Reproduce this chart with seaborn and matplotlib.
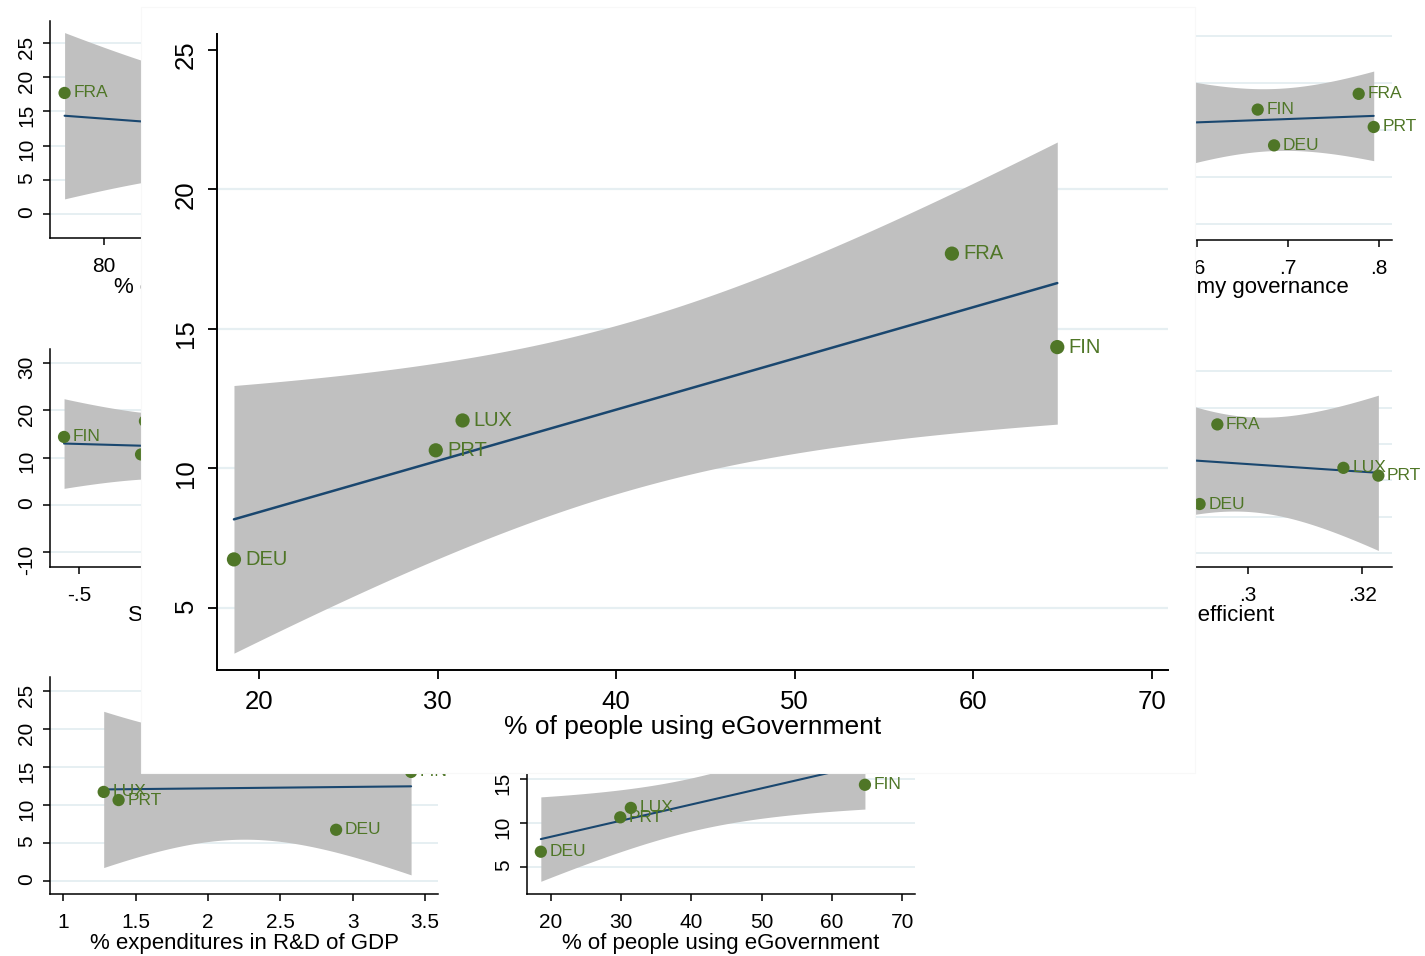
import numpy as np
import matplotlib
matplotlib.use("Agg")
import matplotlib.pyplot as plt
from matplotlib.patches import Rectangle
import seaborn as sns

# ---- data -----------------------------------------------------------------
countries = ["DEU", "FIN", "FRA", "LUX", "PRT"]
outcome = [6.74, 14.35, 17.70, 11.72, 10.65]

egov_use = [18.6, 64.7, 58.8, 31.4, 29.9]            # % of people using eGovernment
rd_share = [2.885, 3.403, 2.22, 1.279, 1.382]         # % expenditures in R&D of GDP
internet_share = [86, 92, 78, 96, 88]                 # % of regular internet users
regulation = [0.01, -0.588, -0.112, 1.455, -0.135]    # regulation index
econ_gov = [0.685, 0.667, 0.778, 0.50, 0.7945]        # platform economy governance
energy_eff = [0.2916, 0.275, 0.2947, 0.3167, 0.3228]  # energy efficiency

# ---- style ----------------------------------------------------------------
sns.set_theme(style="ticks")
plt.rcParams["font.family"] = ["Liberation Sans", "DejaVu Sans"]
plt.rcParams["text.color"] = "black"
plt.rcParams["axes.labelcolor"] = "black"
plt.rcParams["xtick.color"] = "black"
plt.rcParams["ytick.color"] = "black"

GREEN = "#4f7627"
FIT = "#1a476f"
BAND = "#c0c0c0"
GRID = "#e6eff2"

W, H = 1425, 956
T_975 = {1: 12.706, 2: 4.303, 3: 3.182, 4: 2.776, 5: 2.571}


def box(l, t, r, b):
    return [l / W, 1 - b / H, (r - l) / W, (b - t) / H]


def stata_fmt(v):
    s = f"{v:g}"
    if s.startswith("0."):
        s = s[1:]
    elif s.startswith("-0."):
        s = "-" + s[2:]
    return s


def linear_fit(x, y, n=100):
    x = np.asarray(x, float)
    y = np.asarray(y, float)
    k = len(x)
    xm, ym = x.mean(), y.mean()
    sxx = ((x - xm) ** 2).sum()
    b = ((x - xm) * (y - ym)).sum() / sxx
    a = ym - b * xm
    s = np.sqrt(((y - a - b * x) ** 2).sum() / (k - 2))
    g = np.linspace(x.min(), x.max(), n)
    half = T_975[k - 2] * s * np.sqrt(1 / k + (g - xm) ** 2 / sxx)
    fit = a + b * g
    return g, fit, fit - half, fit + half


def draw_panel(ax, x, y, xlim, ylim, xticks, yticks, grid_vals, title,
               big=False):
    g, fit, lo, hi = linear_fit(x, y)
    for v in grid_vals:
        ax.axhline(v, color=GRID, lw=1.6 if big else 1.4, zorder=0)
    ax.fill_between(g, lo, hi, color=BAND, lw=0, zorder=1)
    sns.lineplot(x=g, y=fit, ax=ax, color=FIT, lw=1.8 if big else 1.5,
                 zorder=2)
    sns.scatterplot(x=x, y=y, ax=ax, color=GREEN, s=105 if big else 78,
                    edgecolor="none", linewidth=0, zorder=3)
    for xi, yi, lab in zip(x, y, countries):
        ax.annotate(lab, (xi, yi), xytext=(8 if big else 6.3, 0),
                    textcoords="offset points", ha="left", va="center",
                    color=GREEN, fontsize=14.5 if big else 12.5, zorder=4,
                    annotation_clip=False)
    ax.set_xlim(*xlim)
    ax.set_ylim(*ylim)
    ax.set_xticks(xticks)
    ax.set_xticklabels([stata_fmt(v) for v in xticks])
    ax.set_yticks(yticks)
    ax.set_yticklabels([stata_fmt(v) for v in yticks])
    ax.tick_params(axis="both", direction="out", color="black",
                   labelcolor="black",
                   length=6.5 if big else 5, width=1.3 if big else 1.1,
                   labelsize=18.5 if big else 15)
    ax.tick_params(axis="x", pad=8.5 if big else 8.5)
    ax.tick_params(axis="y", labelrotation=90, pad=7.5 if big else 5)
    ax.set_ylabel("")
    for side in ("top", "right"):
        ax.spines[side].set_visible(False)
    for side in ("left", "bottom"):
        ax.spines[side].set_color("black")
        ax.spines[side].set_linewidth(1.4 if big else 1.1)
    ax.set_facecolor("white")
    ax.set_xlabel(title, fontsize=19 if big else 16, color="black")


fig = plt.figure(figsize=(W / 100, H / 100), dpi=100)
fig.patch.set_facecolor("white")

panels = [
    dict(x=internet_share, px=(50, 21, 438, 238.3), xlim=(77.26, 96.95),
         ylim=(-3.55, 28.22), xticks=[80, 85, 90, 95],
         yticks=[0, 5, 10, 15, 20, 25], title="% of regular internet users",
         title_y=287),
    dict(x=regulation, px=(50, 349, 438, 567), xlim=(-0.6706, 1.6118),
         ylim=(-13.17, 32.96), xticks=[-0.5, 0, 0.5, 1, 1.5],
         yticks=[-10, 0, 10, 20, 30], title="Simple regulation index",
         title_y=615),
    dict(x=rd_share, px=(50, 677, 438, 894), xlim=(0.908, 3.589),
         ylim=(-1.71, 26.84), xticks=[1, 1.5, 2, 2.5, 3, 3.5],
         yticks=[0, 5, 10, 15, 20, 25], title="% expenditures in R&D of GDP",
         title_y=943),
    dict(x=egov_use, px=(526.7, 677, 915, 894.3), xlim=(16.59, 71.82),
         ylim=(1.9, 26.6), xticks=[20, 30, 40, 50, 60, 70],
         yticks=[5, 10, 15, 20, 25], title="% of people using eGovernment",
         title_y=943),
    dict(x=econ_gov, px=(1004, 21, 1392, 240), xlim=(0.3882, 0.8146),
         ylim=(-13.4, 33.2), xticks=[0.4, 0.5, 0.6, 0.7, 0.8],
         yticks=[-10, 0, 10, 20, 30], title="Platform economy governance",
         title_y=287),
    dict(x=energy_eff, px=(1004, 349, 1392, 567.3), xlim=(0.25747, 0.32518),
         ylim=(-1.97, 28.08), xticks=[0.26, 0.28, 0.3, 0.32],
         yticks=[0, 5, 10, 15, 20, 25], title="Energy efficient",
         title_y=615),
]

for p in panels:
    l, t, r, b = p["px"]
    ax = fig.add_axes(box(l, t, r, b))
    ax.set_zorder(0)
    draw_panel(ax, p["x"], outcome, p["xlim"], p["ylim"], p["xticks"],
               p["yticks"], p["yticks"], p["title"])
    ax.xaxis.label.set_va("center")
    ax.xaxis.set_label_coords(0.5, (b - p["title_y"]) / (b - t))

# white backing for the enlarged eGovernment panel
fig.add_artist(Rectangle((140.7 / W, 1 - 773 / H), (1195 - 140.7) / W,
                         (773 - 6.7) / H, transform=fig.transFigure,
                         facecolor="white", edgecolor="#f8f8f8", lw=0.8,
                         zorder=1))

l, t, r, b = 217, 33.5, 1168, 669.6
main = fig.add_axes(box(l, t, r, b))
main.set_zorder(2)
draw_panel(main, egov_use, outcome, (17.65, 70.9), (2.79, 25.59),
           [20, 30, 40, 50, 60, 70], [5, 10, 15, 20, 25], [5, 10, 15, 20],
           "% of people using eGovernment", big=True)
main.xaxis.label.set_va("center")
main.xaxis.set_label_coords(0.5, (b - 727) / (b - t))

fig.savefig("out.png", dpi=100, facecolor="white")
